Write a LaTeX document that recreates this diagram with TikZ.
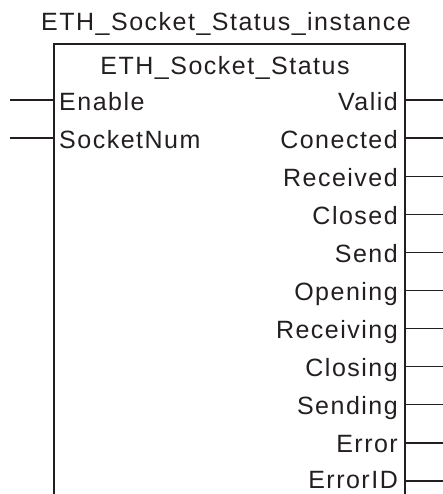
\documentclass[tikz,border=0pt]{standalone}
\usepackage{fontspec}
\setmainfont{Liberation Sans}[LetterSpace=6]
\usetikzlibrary{positioning}

\definecolor{fbink}{HTML}{231F20}

\tikzset{
  pinlbl/.style={font=\fontsize{25}{29}\selectfont, text=fbink, inner sep=0pt},
  fbline/.style={fbink, line width=1.6pt},
  pinline/.style={fbink, line width=1.2pt}
}

\begin{document}
\begin{tikzpicture}[x=1pt, y=-1pt]
  \useasboundingbox (0,0) rectangle (443,494);

  % Block outline (open at the bottom)
  \coordinate (blk-sw) at (54,494);
  \coordinate (blk-nw) at (54,44);
  \coordinate (blk-ne) at (405,44);
  \coordinate (blk-se) at (405,494);
  \draw[fbline] (blk-sw) -- (blk-nw) -- (blk-ne) -- (blk-se);

  % Titles
  \node[pinlbl, anchor=base] (inst) at (226,31) {ETH\_Socket\_Status\_instance};
  \node[pinlbl, anchor=base] (fbname) at (225,75) {ETH\_Socket\_Status};

  % Inputs
  \foreach \name [count=\i from 0] in {Enable, SocketNum} {
    \coordinate (in\i) at (54,100+38.1*\i);
    \coordinate (inend\i) at (10,100+38.1*\i);
    \node[pinlbl, anchor=base west] (inlbl\i) at (59,111+37.9*\i) {\name};
    \draw[pinline] (inend\i) -- (in\i);
  }

  % Outputs (last label sits a little higher, as in the original)
  \foreach \name/\base [count=\i from 0] in {Valid/111, Conected/148.9, Received/186.8,
      Closed/224.7, Send/262.6, Opening/300.5, Receiving/338.4, Closing/376.3,
      Sending/414.2, Error/452.1, ErrorID/488} {
    \coordinate (out\i) at (405,100+38.1*\i);
    \coordinate (outend\i) at (443,100+38.1*\i);
    \node[pinlbl, anchor=base east] (outlbl\i) at (398,\base) {\name};
    \draw[pinline] (out\i) -- (outend\i);
  }
\end{tikzpicture}
\end{document}
